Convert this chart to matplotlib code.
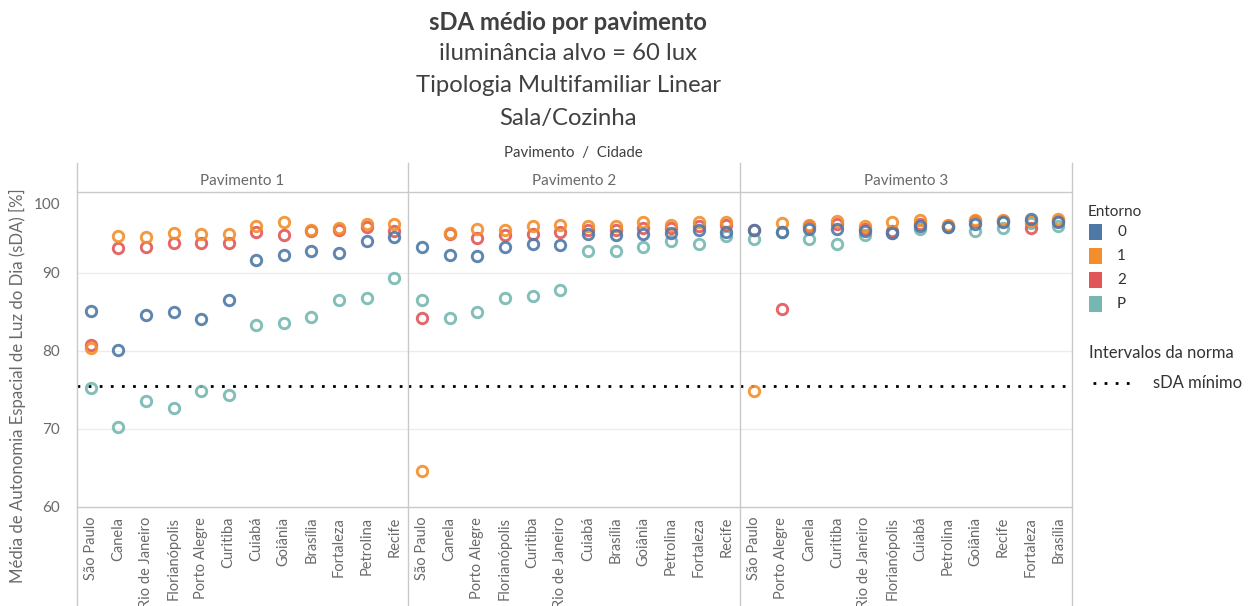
import matplotlib
matplotlib.use("Agg")
import matplotlib.pyplot as plt
from matplotlib.lines import Line2D
from matplotlib.patches import Rectangle
import matplotlib.transforms as mtransforms

plt.rcParams['font.family'] = ['Lato', 'DejaVu Sans']

# ---------------- data ----------------
title_lines = ["sDA médio por pavimento", "iluminância alvo = 60 lux",
               "Tipologia Multifamiliar Linear", "Sala/Cozinha"]
panel_titles = ["Pavimento 1", "Pavimento 2", "Pavimento 3"]
entorno_labels = ["0", "1", "2", "P"]
entorno_colors = ["#4E79A7", "#F28E2B", "#E15759", "#76B7B2"]
sda_minimo = 75.5
yticks = [60, 70, 80, 90, 100]

cities_p1 = ["São Paulo", "Canela", "Rio de Janeiro", "Florianópolis", "Porto Alegre", "Curitiba",
             "Cuiabá", "Goiânia", "Brasília", "Fortaleza", "Petrolina", "Recife"]
cities_p2 = ["São Paulo", "Canela", "Porto Alegre", "Florianópolis", "Curitiba", "Rio de Janeiro",
             "Cuiabá", "Brasília", "Goiânia", "Petrolina", "Fortaleza", "Recife"]
cities_p3 = ["São Paulo", "Porto Alegre", "Canela", "Curitiba", "Rio de Janeiro", "Florianópolis",
             "Cuiabá", "Petrolina", "Goiânia", "Recife", "Fortaleza", "Brasília"]

p1_e0 = [85.1, 80.1, 84.5, 84.9, 84.1, 86.5, 91.6, 92.3, 92.8, 92.5, 94.0, 94.5]
p1_e1 = [80.4, 94.7, 94.6, 95.1, 94.9, 94.9, 96.0, 96.4, 95.5, 95.7, 96.2, 96.2]
p1_e2 = [80.7, 93.1, 93.2, 93.8, 93.8, 93.8, 95.2, 94.8, 95.3, 95.5, 95.8, 95.3]
p1_eP = [75.2, 70.2, 73.5, 72.7, 74.8, 74.3, 83.3, 83.5, 84.3, 86.5, 86.7, 89.3]

p2_e0 = [93.2, 92.3, 92.1, 93.3, 93.7, 93.5, 94.9, 94.8, 94.9, 95.0, 95.4, 95.2]
p2_e1 = [64.6, 95.0, 95.6, 95.4, 96.0, 96.1, 95.9, 96.0, 96.5, 96.1, 96.4, 96.5]
p2_e2 = [84.2, 94.9, 94.4, 94.8, 94.9, 95.2, 95.5, 95.5, 95.7, 95.7, 95.9, 96.1]
p2_eP = [86.5, 84.2, 84.9, 86.7, 87.0, 87.7, 92.8, 92.8, 93.2, 94.0, 93.7, 94.7]

p3_e0 = [95.4, 95.2, 95.6, 95.6, 95.3, 95.1, 95.9, 95.8, 96.2, 96.4, 96.9, 96.4]
p3_e1 = [74.9, 96.3, 96.1, 96.6, 95.9, 96.5, 96.7, 96.1, 96.7, 96.7, 96.6, 96.9]
p3_e2 = [95.4, 85.3, 96.0, 96.2, 95.6, 95.3, 96.2, 96.0, 96.6, 96.6, 95.7, 96.6]
p3_eP = [94.3, 95.2, 94.3, 93.7, 94.8, 95.0, 95.6, 95.8, 95.3, 95.7, 96.3, 96.0]

panels = [
    (cities_p1, [p1_e0, p1_e1, p1_e2, p1_eP]),
    (cities_p2, [p2_e0, p2_e1, p2_e2, p2_eP]),
    (cities_p3, [p3_e0, p3_e1, p3_e2, p3_eP]),
]

# ---------------- layout ----------------
W, H = 1252, 606
fig = plt.figure(figsize=(W / 100, H / 100), dpi=100)
fig.patch.set_facecolor("white")


def fx(x):
    return x / W


def fy(y):
    return 1 - y / H


panel_x = [77, 408, 740, 1072]
y_top, y_bot, y_head = 192, 507, 163
frame_col = "#c9c9c9"
grey_txt = "#6a6a6a"
dark_txt = "#404040"

axes = []
for i, (cities, series) in enumerate(panels):
    ax = fig.add_axes([fx(panel_x[i]), fy(y_bot), fx(panel_x[i + 1] - panel_x[i]), (y_bot - y_top) / H])
    ax.set_facecolor("none")
    for s in ax.spines.values():
        s.set_visible(False)
    ax.set_xlim(-0.5, len(cities) - 0.5)
    ax.set_ylim(60, 100.3)
    for g in [70, 80, 90]:
        ax.axhline(g, color="#ececec", lw=1, zorder=0)
    xs = list(range(len(cities)))
    order = [3, 2, 1, 0]
    for k in order:
        ax.plot(xs, series[k], linestyle="none", marker="o", markersize=7.5,
                markerfacecolor="none", markeredgecolor=entorno_colors[k],
                markeredgewidth=2.1, alpha=0.9, zorder=3 + (3 - k))
    ax.set_xticks(xs)
    ax.set_xticklabels(cities, rotation=90, fontsize=10.5, color=grey_txt, va="top")
    ax.tick_params(axis="x", length=0, pad=7)
    ax.axhline(sda_minimo, color="black", lw=2.0, linestyle=(0, (1, 3)),
               dash_capstyle="butt", zorder=2)
    if i == 0:
        ax.set_yticks(yticks)
        ax.set_yticklabels([str(t) for t in yticks], fontsize=11, color=grey_txt)
        ax.tick_params(axis="y", length=0, pad=12)
        lbl = ax.get_yticklabels()[-1]
        lbl.set_transform(lbl.get_transform() +
                          mtransforms.ScaledTranslation(0, -9 / 100, fig.dpi_scale_trans))
        ax.set_ylabel("Média de Autonomia Espacial de Luz do Dia (sDA) [%]", fontsize=12.1,
                      color=grey_txt)
        ax.yaxis.set_label_coords(-0.155, 0.385)
    else:
        ax.set_yticks([])
    # panel header
    fig.text(fx((panel_x[i] + panel_x[i + 1]) / 2), fy(181), panel_titles[i],
             ha="center", va="center", fontsize=11, color=grey_txt)
    axes.append(ax)

# frame lines
for x in panel_x:
    fig.add_artist(Line2D([fx(x), fx(x)], [fy(y_head), fy(H)], color=frame_col, lw=1))
for y in [y_top, y_bot]:
    fig.add_artist(Line2D([fx(panel_x[0]), fx(panel_x[-1])], [fy(y), fy(y)], color=frame_col, lw=1))

# titles
fig.text(fx(568), fy(22), title_lines[0], ha="center", va="center", fontsize=17.2,
         fontweight="bold", color=dark_txt)
for j, t in enumerate(title_lines[1:]):
    fig.text(fx(568), fy(54 + 32 * j), t, ha="center", va="center", fontsize=17.2, color=dark_txt)
fig.text(fx(573), fy(153), "Pavimento  /  Cidade", ha="center", va="center", fontsize=10.8,
         color="#404040")

# legend
leg_txt = "#333333"
fig.text(fx(1088), fy(212), "Entorno", ha="left", va="center", fontsize=11, color=leg_txt)
for k, (lab, col) in enumerate(zip(entorno_labels, entorno_colors)):
    cy = 232 + 24 * k
    fig.add_artist(Rectangle((fx(1089), fy(cy + 8)), 13 / W, 16 / H, transform=fig.transFigure,
                             facecolor=col, edgecolor="none"))
    fig.text(fx(1117), fy(cy), lab, ha="left", va="center", fontsize=11, color=leg_txt)
fig.text(fx(1089), fy(353), "Intervalos da norma", ha="left", va="center", fontsize=12, color=leg_txt)
fig.add_artist(Line2D([fx(1093), fx(1135)], [fy(383), fy(383)], color="black", lw=2.0,
                      linestyle=(0, (1, 3)), dash_capstyle="butt"))
fig.text(fx(1153), fy(383), "sDA mínimo", ha="left", va="center", fontsize=12, color=leg_txt)

fig.savefig("out.png", dpi=100, facecolor="white")
